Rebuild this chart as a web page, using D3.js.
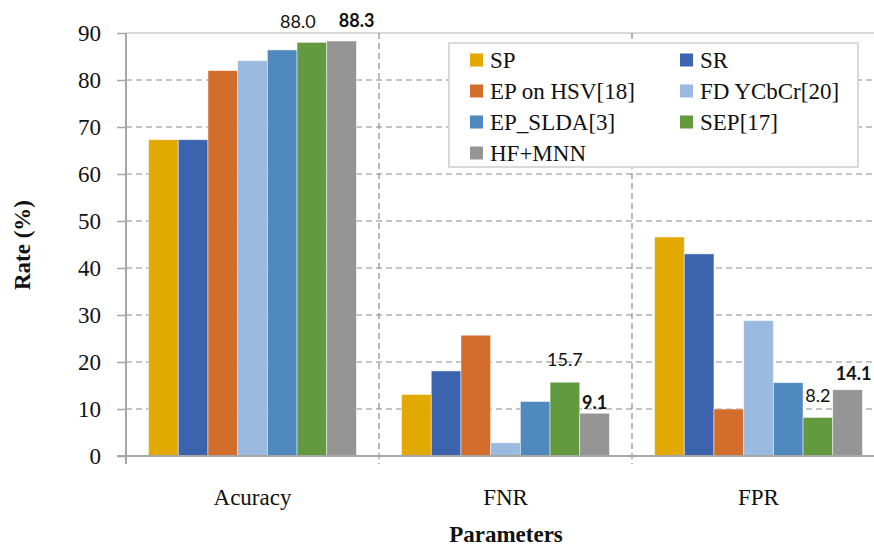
<!DOCTYPE html>
<html>
<head>
<meta charset="utf-8">
<script src="https://cdn.jsdelivr.net/npm/d3@7"></script>
<style>
  body { margin: 0; background: #fff; }
  svg { display: block; overflow: hidden; }
</style>
</head>
<body>
<div id="chart"></div>
<script>
// data
const categories = ['Acuracy', 'FNR', 'FPR'];
const seriesNames = ['SP', 'SR', 'EP on HSV[18]', 'FD YCbCr[20]', 'EP_SLDA[3]', 'SEP[17]', 'HF+MNN'];
const spValues = [67.3, 13.1, 46.6];
const srValues = [67.3, 18.1, 43.0];
const epHsvValues = [82.0, 25.7, 10.0];
const fdYcbcrValues = [84.1, 2.8, 28.8];
const epSldaValues = [86.4, 11.6, 15.6];
const sepValues = [88.0, 15.7, 8.2];
const hfMnnValues = [88.3, 9.1, 14.1];
const yTicks = [0, 10, 20, 30, 40, 50, 60, 70, 80, 90];
// value labels: [category, series, bold]
const valueLabels = [
    ['Acuracy', 'SEP[17]', false],
    ['Acuracy', 'HF+MNN', true],
    ['FNR', 'SEP[17]', false],
    ['FNR', 'HF+MNN', true],
    ['FPR', 'SEP[17]', false],
    ['FPR', 'HF+MNN', true]
];

const colors = ['#e2aa00', '#3c63ad', '#d36d2b', '#9abadf', '#4f89bd', '#639a3f', '#959595'];
const allValues = [spValues, srValues, epHsvValues, fdYcbcrValues, epSldaValues, sepValues, hfMnnValues];
const SERIF = '"Liberation Serif", "Times New Roman", serif';
const SANS = 'Lato, "Liberation Sans", sans-serif';

let flat = [];
categories.forEach((c, ci) => {
    seriesNames.forEach((s, si) => {
        flat.push({cat: c, series: s, value: allValues[si][ci], color: colors[si]});
    });
});

let width = 874, height = 547;
let margin = {top: 33, left: 126, bottom: 456, right: 885};

let svg = d3.select('#chart').append('svg').attr('width', width).attr('height', height);

let x0 = d3.scaleBand().domain(categories).range([margin.left, margin.right]).paddingInner(0).paddingOuter(0);
let x1 = d3.scaleBand().domain(seriesNames).range([0, x0.bandwidth()]).paddingInner(0).paddingOuter(0.76);
let y = d3.scaleLinear().domain([0, 90]).range([margin.bottom, margin.top]);

// grid
svg.append('g').selectAll('line').data(yTicks.filter(t => t > 0 && t < 90)).enter().append('line')
    .attr('x1', margin.left).attr('x2', margin.right)
    .attr('y1', d => y(d)).attr('y2', d => y(d))
    .attr('stroke', '#8c8c8c').attr('stroke-width', 1.2).attr('stroke-dasharray', '6,4');
svg.append('line').attr('x1', margin.left).attr('x2', margin.right)
    .attr('y1', y(90)).attr('y2', y(90)).attr('stroke', '#d9d9d9').attr('stroke-width', 2);
svg.append('g').selectAll('line').data(categories.slice(1)).enter().append('line')
    .attr('x1', d => x0(d)).attr('x2', d => x0(d))
    .attr('y1', margin.top).attr('y2', margin.bottom + 8)
    .attr('stroke', '#8c8c8c').attr('stroke-width', 1.2).attr('stroke-dasharray', '6,4');

// bars
svg.append('g').selectAll('rect').data(flat).enter().append('rect')
    .attr('x', d => x0(d.cat) + x1(d.series))
    .attr('y', d => y(d.value))
    .attr('width', x1.bandwidth())
    .attr('height', d => y(0) - y(d.value))
    .attr('fill', d => d.color)
    .attr('stroke', '#ffffff').attr('stroke-opacity', 0.6).attr('stroke-width', 0.8);

// axes
let yAxis = d3.axisLeft(y).tickValues(yTicks).tickSize(9).tickPadding(16);
let gy = svg.append('g').attr('transform', 'translate(' + margin.left + ',0)').call(yAxis)
    .attr('font-family', null).attr('font-size', null);
gy.select('.domain').remove();
gy.selectAll('.tick line').attr('stroke', '#a6a6a6').attr('stroke-width', 1.5);
gy.selectAll('.tick text').style('font-family', SERIF).style('font-size', '23px')
    .attr('fill', '#111').attr('dy', '0.34em');
svg.append('line').attr('x1', margin.left).attr('x2', margin.left)
    .attr('y1', margin.top).attr('y2', margin.bottom + 8)
    .attr('stroke', '#a6a6a6').attr('stroke-width', 2);
svg.append('line').attr('x1', margin.left - 9).attr('x2', margin.right)
    .attr('y1', y(0)).attr('y2', y(0))
    .attr('stroke', '#a6a6a6').attr('stroke-width', 2);

svg.append('g').selectAll('text').data(categories).enter().append('text')
    .style('font-family', SERIF).style('font-size', '23px').attr('fill', '#111').attr('text-anchor', 'middle')
    .attr('x', d => x0(d) + x0.bandwidth() / 2).attr('y', 505)
    .text(d => d);

svg.append('text').style('font-family', SERIF).style('font-size', '23px').style('font-weight', 'bold')
    .attr('fill', '#111').attr('text-anchor', 'middle').attr('x', 506).attr('y', 542).text('Parameters');
svg.append('text').style('font-family', SERIF).style('font-size', '23px').style('font-weight', 'bold')
    .attr('fill', '#111').attr('text-anchor', 'middle').attr('transform', 'translate(30,245) rotate(-90)').text('Rate (%)');

// value labels, nudged like the original
let labelNudge = [[-14, -14], [15, -14], [0, -16], [0, -4], [0, -15], [6, -10]];
svg.append('g').selectAll('text').data(valueLabels).enter().append('text')
    .style('font-family', SANS).style('font-size', '18px').attr('fill', '#111').attr('text-anchor', 'middle')
    .style('font-weight', d => d[2] ? 'bold' : 'normal')
    .attr('x', (d, i) => x0(d[0]) + x1(d[1]) + x1.bandwidth() / 2 + labelNudge[i][0])
    .attr('y', (d, i) => {
        let si = seriesNames.indexOf(d[1]);
        return y(allValues[si][categories.indexOf(d[0])]) + labelNudge[i][1];
    })
    .text(d => {
        let si = seriesNames.indexOf(d[1]);
        return allValues[si][categories.indexOf(d[0])].toFixed(1);
    });

// legend
let legend = svg.append('g').attr('transform', 'translate(449,43)');
legend.append('rect').attr('width', 409).attr('height', 124)
    .attr('fill', '#fff').attr('stroke', '#d9d9d9').attr('stroke-width', 2);
let item = legend.selectAll('.legend').data(seriesNames).enter().append('g').attr('class', 'legend')
    .attr('transform', (d, i) => 'translate(' + (21 + (i % 2) * 210) + ',' + (17 + Math.floor(i / 2) * 31) + ')');
item.append('rect').attr('width', 13).attr('height', 13).attr('y', -6.5).attr('fill', (d, i) => colors[i]);
item.append('text').style('font-family', SERIF).style('font-size', '23px').attr('fill', '#111')
    .attr('x', 20).attr('dy', '0.35em').text(d => d);
</script>
</body>
</html>
